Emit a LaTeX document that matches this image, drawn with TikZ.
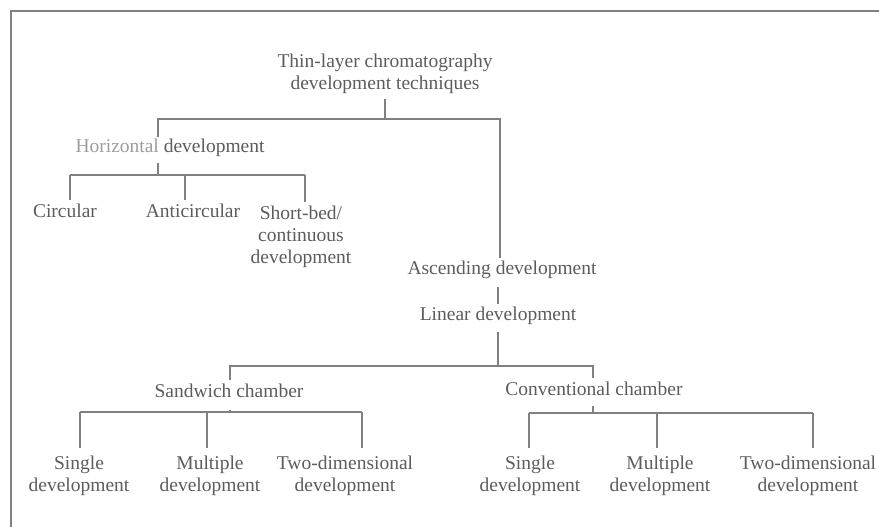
\documentclass[tikz,border=0pt]{standalone}
\usepackage{fontspec}
\setmainfont{Liberation Serif}
\usepackage{xcolor}
\usepackage{tikz}
\usetikzlibrary{calc}

\definecolor{inkgray}{RGB}{92,92,92}
\definecolor{linegray}{RGB}{128,128,128}

\begin{document}
\begin{tikzpicture}[x=1pt, y=-1pt,
    lbl/.style = {text=inkgray, font=\fontsize{19.5}{22}\selectfont, align=center, inner sep=0pt},
    oneline/.style = {lbl, text height=13pt, text depth=4pt},
    branch/.style = {draw=linegray, line width=1.4pt}]
    \useasboundingbox (0,0) rectangle (879,527);
    \draw[linegray, line width=2pt] (11,527) -- (11,11) -- (879,11);

    % labels
    \node[lbl] (root)  at (385,74)  {Thin-layer chromatography\\development techniques};
    \node[oneline] (horiz) at (170,148) {{\color{inkgray!60}Horizontal} development};
    \node[oneline] (circ)  at (65,213)  {Circular};
    \node[oneline] (anti)  at (193,213) {Anticircular};
    \node[lbl] (short) at (301,237) {Short-bed/\\continuous\\development};
    \node[oneline] (asc)   at (502,270) {Ascending development};
    \node[oneline] (lin)   at (498,316) {Linear development};
    \node[oneline] (sand)  at (229,393) {Sandwich chamber};
    \node[oneline] (conv)  at (594,391) {Conventional chamber};
    \node[lbl] (sS) at (79,476)  {Single\\development};
    \node[lbl] (sM) at (210,476) {Multiple\\development};
    \node[lbl] (sT) at (345,476) {Two-dimensional\\development};
    \node[lbl] (cS) at (530,476) {Single\\development};
    \node[lbl] (cM) at (660,476) {Multiple\\development};
    \node[lbl] (cT) at (808,476) {Two-dimensional\\development};

    % bends of the tree
    \coordinate (hl) at (158,119);
    \coordinate (hr) at (500,119);
    \coordinate (hb) at (158,175);
    \coordinate (ll) at (230,366);
    \coordinate (lr) at (593,366);
    \coordinate (sb) at (230,412);
    \coordinate (cb) at (593,413);

    \draw[branch, shorten <=5pt] (root.south) -- (root.south |- hl);
    \draw[branch, shorten <=2pt, shorten >=3pt] (hl |- horiz.north) -- (hl) -- (hr) -- (asc.north -| hr);
    \draw[branch, shorten <=6pt] (hl |- horiz.south) -- (hb);
    \draw[branch] ([xshift=5pt]circ.north |- hb) -- ([xshift=4pt]short.north |- hb);
    \foreach \n/\dx in {circ/5, anti/-8, short/4}
      \draw[branch, shorten <=4pt] ([xshift=\dx pt]\n.north) -- ([xshift=\dx pt]\n.north |- hb);

    \draw[branch, shorten <=8pt, shorten >=3pt] (asc.south -| lin) -- (lin.north);
    \draw[branch, shorten <=7pt] (lin.south) -- (lin.south |- ll);
    \draw[branch, shorten <=4pt, shorten >=4pt] (sand.north -| ll) -- (ll) -- (lr) -- (conv.north -| lr);
    \draw[branch, shorten <=8pt] (sand.south -| sb) -- (sb);
    \draw[branch, shorten <=6pt] (conv.south -| cb) -- (cb);

    \draw[branch] ([xshift=1pt]sS.north |- sb) -- ([xshift=17pt]sT.north |- sb);
    \draw[branch] ([xshift=-1pt]cS.north |- cb) -- ([xshift=5pt]cT.north |- cb);
    \foreach \n/\dx/\b in {sS/1/sb, sM/-3/sb, sT/17/sb, cS/-1/cb, cM/-3/cb, cT/5/cb}
      \draw[branch, shorten <=8pt] ([xshift=\dx pt]\n.north) -- ([xshift=\dx pt]\n.north |- \b);
\end{tikzpicture}
\end{document}
